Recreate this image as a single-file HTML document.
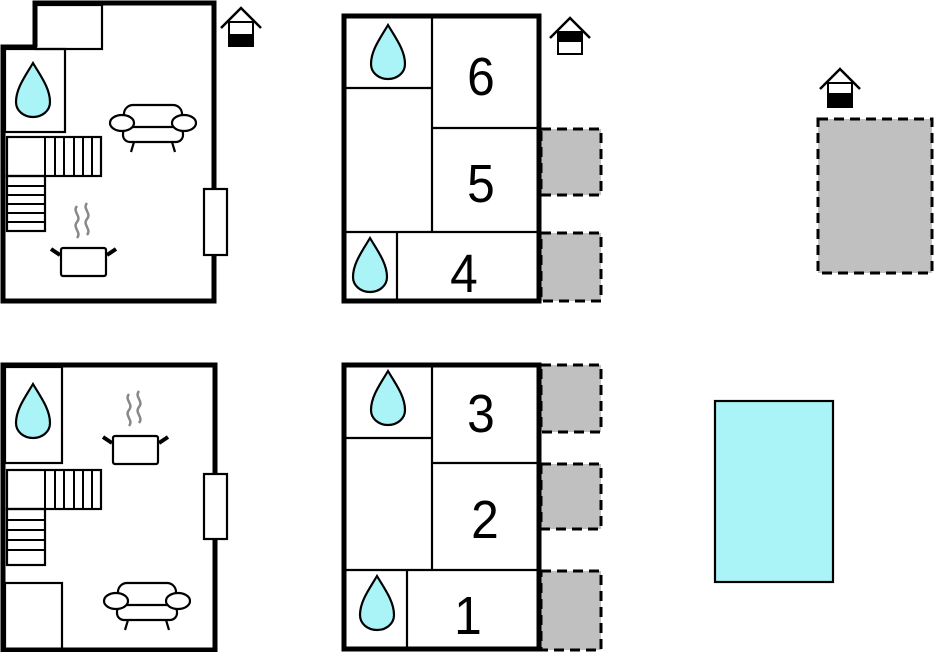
<!DOCTYPE html>
<html><head><style>html,body{margin:0;padding:0;background:#fff;}svg{display:block;}</style></head>
<body>
<svg width="935" height="652" viewBox="0 0 935 652" xmlns="http://www.w3.org/2000/svg" font-family="Liberation Sans, sans-serif">
<defs>
<g id="drop"><path d="M0,-30 C-7,-18 -17,-5 -17,9 C-17,18 -9,24 0,24 C9,24 17,18 17,9 C17,-5 7,-18 0,-30 Z" fill="#aaf4f8" stroke="#000" stroke-width="2.2"/></g>
<g id="sofa" fill="#fff" stroke="#000" stroke-width="2.2">
<rect x="-29" y="-20" width="58" height="24" rx="9"/>
<rect x="-30" y="2" width="60" height="15" rx="7"/>
<ellipse cx="-31" cy="-2" rx="12" ry="8"/>
<ellipse cx="31" cy="-2" rx="12" ry="8"/>
<line x1="-19" y1="17" x2="-22" y2="27"/><line x1="19" y1="17" x2="22" y2="27"/>
</g>
<g id="pot">
<path d="M-6,-52 c-5,6 5,10 0,16 c-5,6 5,10 0,16" fill="none" stroke="#888" stroke-width="2.5"/>
<path d="M4,-55 c-5,6 5,10 0,16 c-5,6 5,10 0,16" fill="none" stroke="#888" stroke-width="2.5"/>
<rect x="-22" y="-10" width="45" height="28" rx="2" fill="#fff" stroke="#000" stroke-width="2.2"/>
<line x1="-23" y1="-3" x2="-32" y2="-9" stroke="#000" stroke-width="4"/>
<line x1="24" y1="-3" x2="33" y2="-9" stroke="#000" stroke-width="4"/>
</g>
</defs>

<!-- Top-left plan -->
<g fill="none" stroke="#000">
<polyline points="35,47 35,3 214,3 214,301 3,301 3,47 35,47" stroke-width="5"/>
<rect x="36" y="5" width="66" height="44" stroke-width="2.2"/>
<rect x="5" y="49" width="60" height="83" stroke-width="2.2"/>
<rect x="7" y="137" width="94" height="39" stroke-width="2.2"/>
<rect x="7" y="176" width="38" height="55" stroke-width="2.2"/>
<path d="M45,137V176M55,137V176M64,137V176M74,137V176M83,137V176M92,137V176" stroke-width="2"/>
<path d="M7,186H45M7,195H45M7,204H45M7,213H45M7,222H45" stroke-width="2"/>
<rect x="204" y="189" width="23" height="66" fill="#fff" stroke-width="2.2"/>
</g>
<use href="#drop" x="33" y="93"/>
<use href="#sofa" x="153" y="125"/>
<use href="#pot" x="83" y="258"/>
<g transform="translate(241,18)"><polyline points="-20,10 0,-10 20,10" fill="none" stroke="#000" stroke-width="2.5"/><rect x="-12" y="4" width="24" height="24" fill="#fff" stroke="#000" stroke-width="2"/><rect x="-12" y="16" width="24" height="12" fill="#000"/></g>

<!-- Bottom-left plan -->
<g fill="none" stroke="#000">
<rect x="3" y="365" width="212" height="285" stroke-width="5"/>
<rect x="5" y="367" width="57" height="96" stroke-width="2.2"/>
<rect x="7" y="470" width="94" height="39" stroke-width="2.2"/>
<rect x="7" y="509" width="38" height="56" stroke-width="2.2"/>
<path d="M45,470V509M55,470V509M64,470V509M74,470V509M83,470V509M92,470V509" stroke-width="2"/>
<path d="M7,520H45M7,530H45M7,540H45M7,550H45" stroke-width="2"/>
<rect x="5" y="583" width="57" height="66" stroke-width="2.2"/>
<rect x="204" y="474" width="23" height="65" fill="#fff" stroke-width="2.2"/>
</g>
<use href="#drop" x="33" y="414"/>
<use href="#pot" x="135" y="446"/>
<use href="#sofa" x="147" y="603"/>

<g fill="#c0c0c0" stroke="#000" stroke-width="3" stroke-dasharray="10,6">
<rect x="541" y="129" width="60" height="66"/>
<rect x="541" y="233" width="60" height="68"/>
<rect x="541" y="365" width="60" height="67"/>
<rect x="541" y="464" width="60" height="65"/>
<rect x="541" y="571" width="60" height="79"/>
<rect x="818" y="119" width="114" height="154"/>
</g>
<g fill="none" stroke="#000">
<rect x="344" y="16" width="195" height="285" stroke-width="5"/>
<path d="M432,16V232M344,88H432M432,128H539M344,232H539M397,232V301" stroke-width="2.2"/>
<rect x="344" y="365" width="195" height="284" stroke-width="5"/>
<path d="M432,365V570M344,438H432M432,463H539M344,570H539M407,570V649" stroke-width="2.2"/>
</g>
<use href="#drop" x="388" y="55"/>
<use href="#drop" x="370" y="268"/>
<use href="#drop" x="388" y="401"/>
<use href="#drop" x="377" y="606"/>
<g font-size="54" text-anchor="middle" fill="#000">
<text x="481" y="95" transform="translate(481,0) scale(0.92,1) translate(-481,0)">6</text>
<text x="481" y="202" transform="translate(481,0) scale(0.92,1) translate(-481,0)">5</text>
<text x="464" y="292" transform="translate(464,0) scale(0.92,1) translate(-464,0)">4</text>
<text x="481" y="432" transform="translate(481,0) scale(0.92,1) translate(-481,0)">3</text>
<text x="485" y="538" transform="translate(485,0) scale(0.92,1) translate(-485,0)">2</text>
<text x="468" y="634" transform="translate(468,0) scale(0.92,1) translate(-468,0)">1</text>
</g>
<g transform="translate(570,28)"><polyline points="-20,10 0,-10 20,10" fill="none" stroke="#000" stroke-width="2.5"/><rect x="-12" y="4" width="24" height="22" fill="#fff" stroke="#000" stroke-width="2"/><rect x="-12" y="4" width="24" height="10" fill="#000"/></g>
<g transform="translate(840,79)"><polyline points="-20,10 0,-10 20,10" fill="none" stroke="#000" stroke-width="2.5"/><rect x="-12" y="4" width="24" height="24" fill="#fff" stroke="#000" stroke-width="2"/><rect x="-12" y="14" width="24" height="14" fill="#000"/></g>

<rect x="715" y="401" width="118" height="181" fill="#aaf4f8" stroke="#000" stroke-width="2.2"/>
</svg>
</body></html>
